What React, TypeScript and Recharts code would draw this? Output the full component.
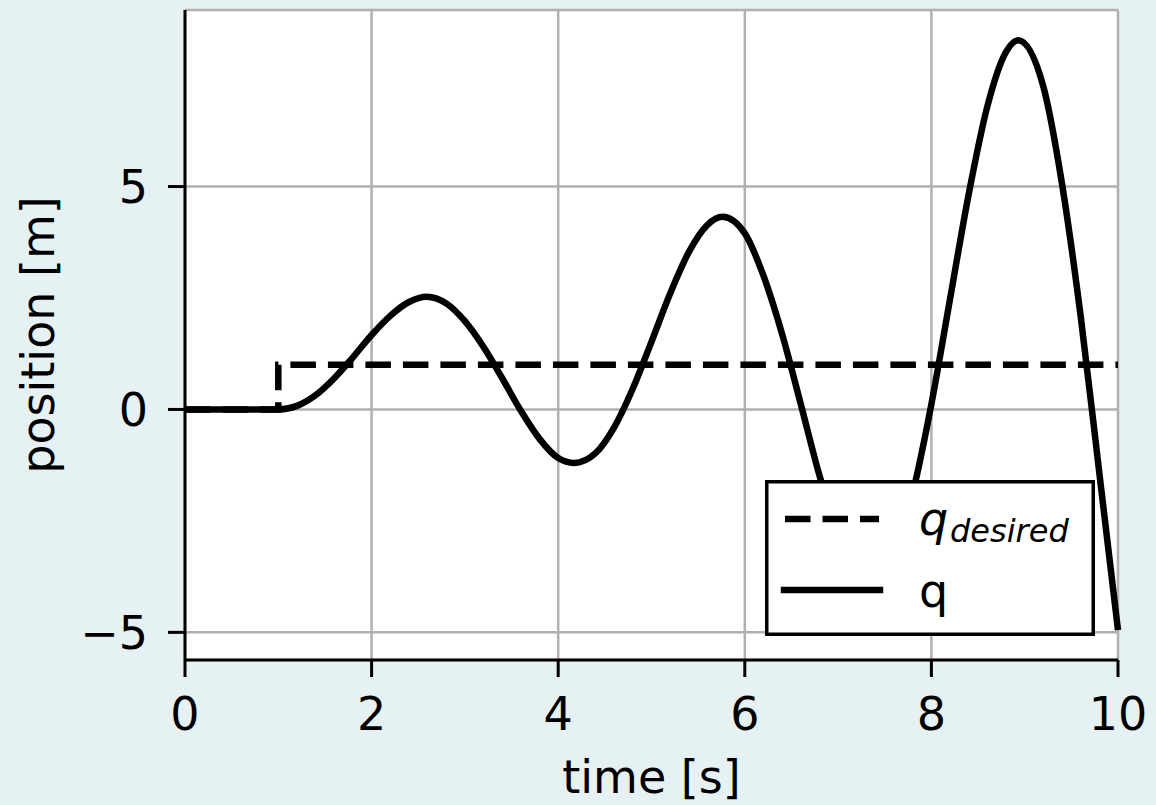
import { LineChart, Line, XAxis, YAxis, CartesianGrid, Legend } from 'recharts'

// values
const qTime = [
  0, 0.5, 1.0, 1.2, 1.4, 1.6, 1.8, 2.0, 2.2, 2.4, 2.59, 2.8, 3.0, 3.2, 3.4, 3.6, 3.8, 4.0, 4.17,
  4.4, 4.6, 4.8, 5.0, 5.2, 5.4, 5.6, 5.76, 6.0, 6.2, 6.4, 6.6, 6.8, 7.0, 7.2, 7.35, 7.6, 7.8, 8.0,
  8.2, 8.4, 8.6, 8.8, 8.93, 9.2, 9.4, 9.6, 9.8, 10.0,
]
const qPos = [
  0, 0, 0, 0.08, 0.32, 0.7, 1.17, 1.67, 2.1, 2.41, 2.53, 2.38, 1.98, 1.4, 0.7, -0.03, -0.66, -1.09, -1.2,
  -0.98, -0.4, 0.47, 1.52, 2.6, 3.53, 4.14, 4.32, 3.95, 3.0, 1.69, 0.12, -1.48, -2.82, -3.68, -3.89, -3.25, -1.87, 0.12,
  2.48, 4.83, 6.8, 8.02, 8.28, 7.24, 5.06, 2.09, -1.43, -4.95,
]
const desiredTime = [0, 1, 1, 10]
const desiredPos = [0, 0, 1, 1]

const xTicks = [0, 2, 4, 6, 8, 10]
const yTicks = [-5, 0, 5]

const qData = qTime.map((t, i) => ({ t, v: qPos[i] }))
const desiredData = desiredTime.map((t, i) => ({ t, v: desiredPos[i] }))

const FONT = 'DejaVu Sans'
const minus = (v: number) => String(v).replace('-', '\u2212')

function LegendBox() {
  return (
    <svg width={330} height={156} style={{ display: 'block' }}>
      <rect x={1.75} y={1.75} width={326.5} height={152.5} fill="#fff" stroke="#000" strokeWidth={3.5} />
      <line x1={20} y1={39} x2={114} y2={39} stroke="#000" strokeWidth={6.5} strokeDasharray="25.5 12" />
      <text x={154} y={55} fontFamily={FONT} fontSize={46} fontStyle="italic" fill="#000">
        q
      </text>
      <text x={185} y={62} fontFamily={FONT} fontSize={32} fontStyle="italic" fill="#000">
        desired
      </text>
      <line x1={19} y1={110} x2={115} y2={110} stroke="#000" strokeWidth={6.5} strokeLinecap="square" />
      <text x={154} y={127} fontFamily={FONT} fontSize={46} fill="#000">
        q
      </text>
    </svg>
  )
}

export default function App() {
  return (
    <div
      style={{
        position: 'absolute',
        left: 0,
        top: 0,
        width: 1156,
        height: 805,
        background: '#e6f1f3',
        fontFamily: FONT,
      }}
    >
      <LineChart width={1156} height={805} margin={{ top: 10, right: 38, left: 0, bottom: 0 }}>
        <CartesianGrid fill="#fff" fillOpacity={1} stroke="#b0b0b0" strokeWidth={2.5} />
        <XAxis
          type="number"
          dataKey="t"
          domain={[0, 10]}
          ticks={xTicks}
          height={145}
          stroke="#000"
          axisLine={{ stroke: '#000', strokeWidth: 3 }}
          tickLine={{ stroke: '#000', strokeWidth: 3 }}
          tickSize={17}
          tickMargin={20}
          tick={{ fontSize: 46, fill: '#000', fontFamily: FONT }}
          label={{
            content: ({ viewBox }: any) => (
              <text x={viewBox.x + viewBox.width / 2} y={793} textAnchor="middle" fontSize={46} fontFamily={FONT} fill="#000">
                time [s]
              </text>
            ),
          }}
        />
        <YAxis
          type="number"
          domain={[-5.62, 8.96]}
          ticks={yTicks}
          width={185}
          stroke="#000"
          axisLine={{ stroke: '#000', strokeWidth: 3 }}
          tickLine={{ stroke: '#000', strokeWidth: 3 }}
          tickSize={17}
          tickMargin={20}
          tickFormatter={minus}
          tick={{ fontSize: 46, fill: '#000', fontFamily: FONT }}
          label={{
            content: () => (
              <text x={54} y={335} transform="rotate(-90, 54, 335)" textAnchor="middle" fontSize={46} fontFamily={FONT} fill="#000">
                position [m]
              </text>
            ),
          }}
        />
        <Line
          data={desiredData}
          dataKey="v"
          type="linear"
          stroke="#000"
          strokeWidth={6.5}
          strokeDasharray="25.5 12"
          dot={false}
          activeDot={false}
          isAnimationActive={false}
        />
        <Line
          data={qData}
          dataKey="v"
          type="monotone"
          stroke="#000"
          strokeWidth={6.5}
          dot={false}
          activeDot={false}
          isAnimationActive={false}
        />
        <Legend
          layout="vertical"
          align="center"
          verticalAlign="middle"
          wrapperStyle={{ left: 765, top: 480, width: 330, height: 156 }}
          content={() => <LegendBox />}
        />
      </LineChart>
    </div>
  )
}
